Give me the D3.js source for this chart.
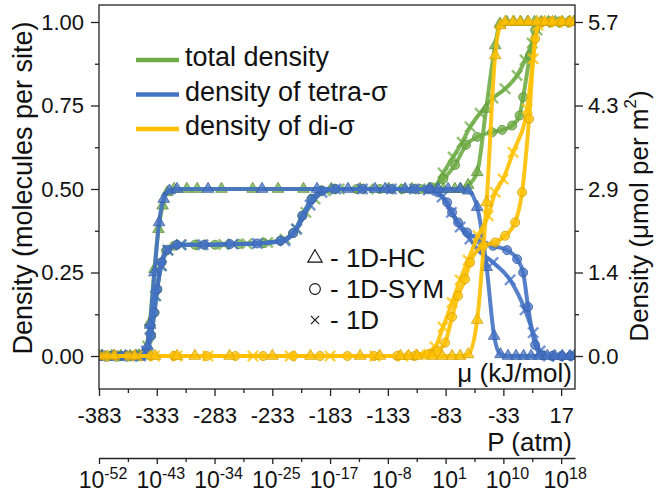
<!DOCTYPE html>
<html>
<head>
<meta charset="utf-8">
<script src="https://cdn.jsdelivr.net/npm/d3@7"></script>
<style>
  body { margin: 0; background: #fff; }
  text { font-family: Arial, "Liberation Sans", sans-serif; fill: #111; }
</style>
</head>
<body>
<svg id="chart" width="656" height="496"></svg>
<script>
// adsorption isotherms: density vs chemical potential for three models

// [mu (kJ/mol), density]
const hcTotal = [[-381,0],[-372,0],[-364,0],[-356,0],[-348,0],[-343,0.01],[-339,0.1],[-335,0.26],[-331.5,0.38],[-328,0.45],[-324,0.49],[-318,0.5],[-307,0.5],[-298,0.5],[-277,0.5],[-250,0.5],[-228,0.5],[-206,0.5],[-182,0.5],[-157,0.5],[-132,0.5],[-112,0.5],[-97,0.5],[-85,0.5],[-75,0.5],[-70,0.5],[-63.5,0.512],[-55.7,0.55],[-47.9,0.74],[-40.1,0.93],[-36,0.995],[-30,1],[-24,1],[-18,1],[-12,1],[-6,1],[0,1],[6,1],[12,1],[18,1],[24,1],[28,1]];
const hcTetra = [[-380,0],[-370,0],[-360,0],[-351,0],[-345,0.005],[-341,0.03],[-338.8,0.093],[-335,0.25],[-331,0.4],[-327,0.47],[-322,0.495],[-315.5,0.5],[-288.6,0.5],[-241.9,0.5],[-194.3,0.5],[-167.5,0.5],[-144.1,0.5],[-135.4,0.5],[-118,0.5],[-96.4,0.5],[-89.5,0.5],[-80.8,0.5],[-70.4,0.5],[-63.5,0.495],[-55.7,0.446],[-47.5,0.266],[-41,0.06],[-35.5,0.005],[-29,0],[-22,0],[-15.5,0],[-9,0],[-2,0],[5,0],[11.5,0],[18,0],[24.5,0],[28.5,0]];
const hcDi = [[-383,0],[-370,0],[-352,0],[-334.5,0],[-315.5,0],[-300,0],[-270,0],[-233,0],[-200,0],[-157,0],[-140,0],[-122,0],[-115,0],[-107.7,0],[-94.7,0],[-86,0],[-77.4,0],[-70.4,0],[-63.5,0.005],[-55.7,0.108],[-47.5,0.46],[-40.1,0.9],[-35.5,0.99],[-31.5,1],[-24.6,1],[-18.5,1],[-11.4,1],[-4,1],[3,1],[9.6,1],[17.8,1],[24.8,1],[28.5,1]];

const symTotal = [[-382,0],[-373,0],[-364,0],[-355,0],[-347,0],[-342,0.01],[-338,0.06],[-335,0.13],[-332.8,0.2],[-329,0.28],[-325,0.315],[-318,0.33],[-300,0.333],[-282.6,0.333],[-262,0.335],[-240,0.338],[-226,0.345],[-215,0.368],[-207,0.42],[-199,0.47],[-190,0.495],[-180,0.5],[-160,0.5],[-140,0.5],[-120,0.5],[-105,0.5],[-95,0.505],[-85,0.53],[-74.8,0.572],[-65.3,0.632],[-55.7,0.656],[-42.7,0.67],[-34.1,0.677],[-25.4,0.69],[-19,0.72],[-15.9,0.775],[-10,0.9],[-5.5,0.976],[0,1],[8,1],[16,1],[24,1]];
const symTetra = [[-381,0],[-372,0],[-363,0],[-354,0],[-346,0],[-342,0.01],[-338,0.06],[-335,0.13],[-332.5,0.2],[-329,0.28],[-324,0.318],[-315.5,0.333],[-292,0.333],[-269.6,0.335],[-246.2,0.337],[-226,0.345],[-215,0.368],[-207,0.42],[-199,0.47],[-190,0.495],[-178,0.5],[-155,0.5],[-130,0.5],[-110,0.5],[-98,0.499],[-90,0.49],[-81.7,0.46],[-77.4,0.43],[-72.2,0.4],[-64.4,0.37],[-53.1,0.347],[-41.9,0.33],[-29.8,0.317],[-21.1,0.29],[-15.9,0.25],[-11.6,0.147],[-5.5,0.033],[1,0.002],[9,0],[17,0],[25,0]];
const symDi = [[-378,0],[-358,0],[-338,0],[-318,0],[-290,0],[-265,0],[-241,0],[-215,0],[-191.7,0],[-168,0],[-145,0],[-125,0],[-110,0],[-98,0.005],[-90,0.015],[-83.4,0.04],[-77.4,0.117],[-72.2,0.18],[-66.1,0.23],[-61.8,0.28],[-50.5,0.33],[-40.1,0.34],[-31.5,0.36],[-22.8,0.4],[-16.8,0.49],[-10.7,0.71],[-5.5,0.95],[0,1],[8,1],[16,1],[24,1]];

const oneTotal = [[-380,0],[-371,0],[-362,0],[-353,0],[-345,0.005],[-341,0.03],[-338.8,0.08],[-334,0.18],[-329,0.27],[-323.3,0.317],[-312,0.333],[-295,0.333],[-275,0.334],[-255,0.336],[-237,0.34],[-222,0.35],[-212,0.38],[-204,0.43],[-196,0.47],[-187,0.495],[-175,0.5],[-150,0.5],[-125,0.5],[-105,0.5],[-93.8,0.503],[-85.2,0.548],[-76.5,0.596],[-68.7,0.64],[-61.8,0.686],[-53.1,0.727],[-41.9,0.772],[-31.5,0.8],[-21.1,0.84],[-14.2,0.886],[-8.1,0.937],[-3.8,0.976],[3,1],[11,1],[19,1],[27,1]];
const oneTetra = [[-382,0],[-373,0],[-364,0],[-355,0],[-347,0],[-342,0.015],[-338.8,0.08],[-334,0.18],[-329,0.27],[-323.3,0.317],[-312,0.333],[-293,0.333],[-267,0.335],[-246,0.337],[-222,0.345],[-212,0.38],[-200.3,0.452],[-190,0.49],[-178,0.5],[-155,0.5],[-130,0.5],[-110,0.5],[-98,0.497],[-86,0.476],[-78,0.43],[-70.4,0.386],[-62,0.35],[-54.9,0.317],[-41.9,0.28],[-27.2,0.228],[-14.2,0.138],[-7.2,0.07],[-1.2,0.015],[6,0],[14,0],[22,0]];
const oneDi = [[-372,0],[-350,0],[-335,0],[-315.5,0],[-288.6,0],[-249.7,0],[-217.6,0],[-183,0],[-144.1,0],[-120,0],[-105,0.005],[-92.1,0.027],[-85.2,0.087],[-77.4,0.16],[-70.4,0.228],[-63.5,0.287],[-54.9,0.36],[-46.2,0.42],[-40.1,0.49],[-33.2,0.53],[-24.6,0.61],[-12.4,0.74],[-7.2,0.89],[-2.9,0.99],[5,1],[13,1],[21,1],[28,1]];

const muTicks = [-383, -333, -283, -233, -183, -133, -83, -33, 17];
const pExponents = [-52, -43, -34, -25, -17, -8, 1, 10, 18];
const leftTicks = [0, 0.25, 0.5, 0.75, 1];
const rightLabels = ["0.0", "1.4", "2.9", "4.3", "5.7"];
const legendNames = ["total density", "density of tetra-\u03c3", "density of di-\u03c3"];
const modelNames = ["- 1D-HC", "- 1D-SYM", "- 1D"];

const green = "#70AD47", blue = "#4472C4", gold = "#FFC000";

const svg = d3.select("#chart");
const pL = 99, pR = 575, pT = 5, pB = 389;

const x = d3.scaleLinear().domain([-383, 29]).range([pL, pR]);
const y = d3.scaleLinear().domain([0, 1]).range([356, 22]);

svg.append("defs").append("clipPath").attr("id", "plot")
  .append("rect").attr("x", pL).attr("y", pT)
  .attr("width", pR - pL).attr("height", pB - pT);

const series = [
  { data: oneTotal, color: green, mark: "x" },
  { data: symTotal, color: green, mark: "o" },
  { data: hcTotal, color: green, mark: "t" },
  { data: oneTetra, color: blue, mark: "x" },
  { data: symTetra, color: blue, mark: "o" },
  { data: hcTetra, color: blue, mark: "t" },
  { data: oneDi, color: gold, mark: "x" },
  { data: symDi, color: gold, mark: "o" },
  { data: hcDi, color: gold, mark: "t" }
];

const line = d3.line()
  .x(d => x(d[0]))
  .y(d => y(d[1]))
  .curve(d3.curveMonotoneX);

const symbols = {
  t: d3.symbol().type(d3.symbolTriangle).size(58),
  o: d3.symbol().type(d3.symbolCircle).size(64),
  x: d3.symbol().type(d3.symbolTimes).size(70)
};

const plot = svg.append("g").attr("clip-path", "url(#plot)");

series.forEach(s => {
  const g = plot.append("g");
  g.append("path")
    .attr("d", line(s.data))
    .attr("fill", "none")
    .attr("stroke", s.color)
    .attr("stroke-width", 4)
    .attr("stroke-opacity", 0.9);

  const m = g.selectAll("path.m")
    .data(s.data)
    .join("path")
    .attr("class", "m")
    .attr("transform", d => `translate(${x(d[0])},${y(d[1])})`)
    .attr("d", symbols[s.mark]());

  if (s.mark === "x") {
    m.attr("fill", "none")
      .attr("stroke", s.color)
      .attr("stroke-width", 2.4)
      .attr("stroke-opacity", 0.75);
  } else {
    m.attr("fill", s.color)
      .attr("fill-opacity", 0.75)
      .attr("stroke", d3.color(s.color).darker(0.5))
      .attr("stroke-width", 0.8);
  }
});

// frame
svg.append("rect")
  .attr("x", pL).attr("y", pT)
  .attr("width", pR - pL).attr("height", pB - pT)
  .attr("fill", "none").attr("stroke", "#222").attr("stroke-width", 1.3);

function styleAxis(g) {
  g.select(".domain").attr("stroke", "#222").attr("stroke-width", 1.3);
  g.selectAll(".tick line").attr("stroke", "#222").attr("stroke-width", 1.3);
  g.selectAll(".tick text").style("font-size", "22px").attr("fill", "#111")
    .style("font-family", "Arial, 'Liberation Sans', sans-serif");
}

const muMinor = muTicks.slice(0, -1).map(d => d + 25);
const yMinor = [0.125, 0.375, 0.625, 0.875];

// mu axis on frame bottom
svg.append("g")
  .attr("transform", `translate(0,${pB})`)
  .call(d3.axisBottom(x).tickValues(muTicks).tickSize(7).tickSizeOuter(0)
    .tickPadding(11).tickFormat(d => String(d)))
  .call(g => g.select(".domain").remove())
  .call(styleAxis);
svg.append("g")
  .attr("transform", `translate(0,${pB})`)
  .call(d3.axisBottom(x).tickValues(muMinor).tickSize(4).tickFormat(""))
  .call(g => g.select(".domain").remove())
  .call(styleAxis);

// pressure axis (log scale, labelled at the same positions)
const pY = 458;
svg.append("g")
  .attr("transform", `translate(0,${pY})`)
  .call(d3.axisBottom(x).tickValues(muTicks).tickSize(6).tickSizeOuter(0).tickFormat(""))
  .call(styleAxis);
svg.append("g")
  .attr("transform", `translate(0,${pY})`)
  .call(d3.axisBottom(x).tickValues(muMinor).tickSize(4).tickFormat(""))
  .call(g => g.select(".domain").remove())
  .call(styleAxis);

const pLab = svg.append("g").selectAll("text")
  .data(muTicks)
  .join("text")
  .attr("x", d => x(d) + 4)
  .attr("y", 488)
  .attr("text-anchor", "middle")
  .style("font-size", "23px");
pLab.append("tspan").text("10");
pLab.append("tspan")
  .attr("dy", -9)
  .style("font-size", "16px")
  .text((d, i) => String(pExponents[i]));

// left axis
svg.append("g")
  .attr("transform", `translate(${pL},0)`)
  .call(d3.axisLeft(y).tickValues(leftTicks).tickSize(8).tickPadding(7)
    .tickFormat(d3.format(".2f")))
  .call(g => g.select(".domain").remove())
  .call(styleAxis);
svg.append("g")
  .attr("transform", `translate(${pL},0)`)
  .call(d3.axisLeft(y).tickValues(yMinor).tickSize(4).tickFormat(""))
  .call(g => g.select(".domain").remove())
  .call(styleAxis);

// right axis
svg.append("g")
  .attr("transform", `translate(${pR},0)`)
  .call(d3.axisRight(y).tickValues(leftTicks).tickSize(8).tickPadding(5)
    .tickFormat((d, i) => rightLabels[i]))
  .call(g => g.select(".domain").remove())
  .call(styleAxis);
svg.append("g")
  .attr("transform", `translate(${pR},0)`)
  .call(d3.axisRight(y).tickValues(yMinor).tickSize(4).tickFormat(""))
  .call(g => g.select(".domain").remove())
  .call(styleAxis);

// axis titles
svg.append("text")
  .attr("transform", "translate(23,188) rotate(-90)")
  .attr("text-anchor", "middle")
  .attr("dominant-baseline", "central")
  .style("font-size", "27px")
  .text("Density (molecules per site)");

const rt = svg.append("text")
  .attr("transform", "translate(639,216) rotate(-90)")
  .attr("text-anchor", "middle")
  .attr("dominant-baseline", "central")
  .style("font-size", "26px");
rt.append("tspan").text("Density (\u03bcmol per m");
rt.append("tspan").attr("dy", -9).style("font-size", "17px").text("2");
rt.append("tspan").attr("dy", 9).text(")");

svg.append("text")
  .attr("x", 572).attr("y", 451)
  .attr("text-anchor", "end")
  .style("font-size", "26px")
  .text("P (atm)");

svg.append("text")
  .attr("x", 572).attr("y", 382)
  .attr("text-anchor", "end")
  .style("font-size", "26px")
  .text("\u03bc (kJ/mol)");

// colour legend
const legColors = [green, blue, gold];
const leg = svg.append("g");
legendNames.forEach((name, i) => {
  const ly = 60 + i * 34.5;
  leg.append("line")
    .attr("x1", 136).attr("x2", 179)
    .attr("y1", ly).attr("y2", ly)
    .attr("stroke", legColors[i]).attr("stroke-width", 4.5);
  leg.append("text")
    .attr("x", 185).attr("y", ly + 6)
    .style("font-size", "27px")
    .text(name);
});

// marker legend
const mk = svg.append("g");
const mkShapes = [d3.symbolTriangle, d3.symbolCircle, d3.symbolTimes];
const mkSizes = [90, 90, 45];
modelNames.forEach((name, i) => {
  const my = 258 + i * 31;
  mk.append("path")
    .attr("transform", `translate(315,${my})`)
    .attr("d", d3.symbol().type(mkShapes[i]).size(mkSizes[i])())
    .attr("fill", "none").attr("stroke", "#111").attr("stroke-width", 1.1);
  mk.append("text")
    .attr("x", 330).attr("y", my + 9)
    .style("font-size", "26px")
    .text(name);
});
</script>
</body>
</html>
